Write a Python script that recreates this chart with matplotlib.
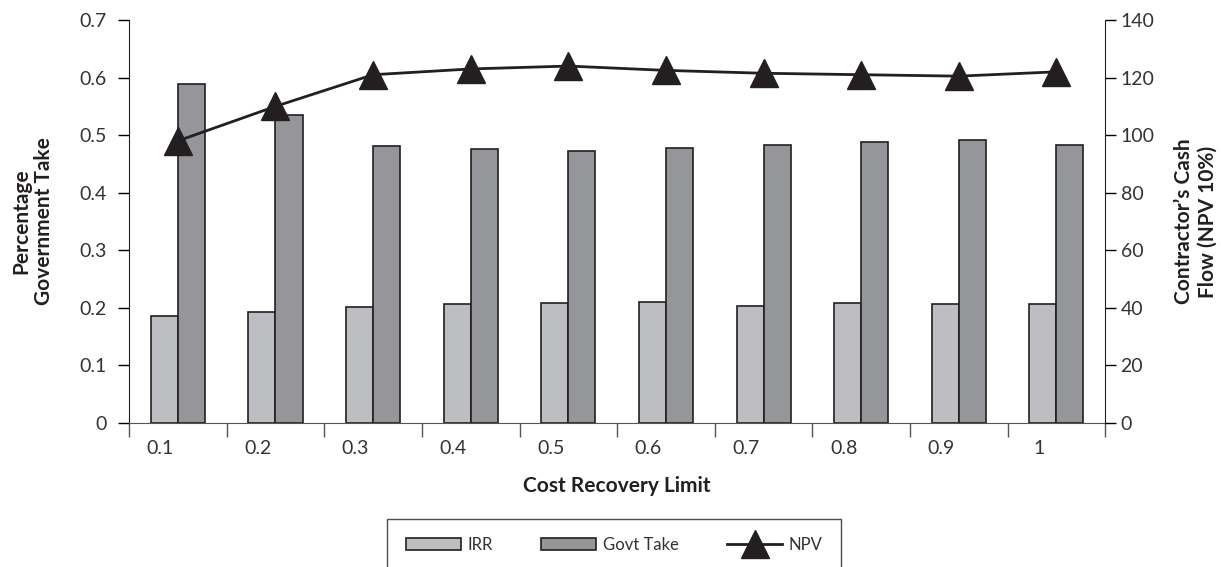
import numpy as np
import matplotlib
matplotlib.use("Agg")
import matplotlib.pyplot as plt

plt.rcParams['font.family'] = ['Lato', 'DejaVu Sans']

limits = ['0.1', '0.2', '0.3', '0.4', '0.5', '0.6', '0.7', '0.8', '0.9', '1']
irr = [0.185, 0.192, 0.202, 0.206, 0.209, 0.210, 0.204, 0.209, 0.207, 0.207]
govt_take = [0.588, 0.535, 0.482, 0.476, 0.473, 0.477, 0.483, 0.488, 0.492, 0.483]
npv = [98, 110, 121, 123, 124, 122.5, 121.5, 121, 120.5, 122]

edge = '#231f20'
fig = plt.figure(figsize=(12.21, 5.67), dpi=100)
ax = fig.add_axes([0.1057, 0.254, 0.7995, 0.7107])
x = np.arange(len(limits))
w = 0.277
ax.bar(x - w/2, irr, w, color='#bdbec2', edgecolor=edge, linewidth=1.2, label='IRR', zorder=2)
ax.bar(x + w/2, govt_take, w, color='#95969a', edgecolor=edge, linewidth=1.2, label='Govt Take', zorder=2)
ax.set_xlim(-0.5, len(limits) - 0.5)
ax.set_ylim(0, 0.7)
ax.set_yticks(np.arange(0, 0.71, 0.1))
ax.set_yticklabels(['0', '0.1', '0.2', '0.3', '0.4', '0.5', '0.6', '0.7'])

# tick marks on the category borders, labels a bit left of centre
ax.set_xticks(np.arange(-0.5, len(limits), 1))
ax.set_xticklabels([])
ax.set_xticks(x - 0.18, minor=True)
ax.set_xticklabels(limits, minor=True)
ax.tick_params(axis='x', which='major', direction='out', length=10, width=1, color='#555555')
ax.tick_params(axis='x', which='minor', length=0, pad=12, labelsize=14, labelcolor='#333333')
ax.tick_params(axis='y', direction='out', length=8, width=1, labelsize=14, labelcolor='#333333', pad=8)
for s in ['top', 'right']:
    ax.spines[s].set_visible(False)
ax.spines['left'].set_color(edge)
ax.spines['bottom'].set_color('#555555')

ax2 = ax.twinx()
ax2.plot(x, npv, color=edge, linewidth=2, marker='^', markersize=20, label='NPV', zorder=3)
ax2.set_ylim(0, 140)
ax2.set_yticks(np.arange(0, 141, 20))
ax2.tick_params(axis='y', direction='out', length=8, width=1, labelsize=14, labelcolor='#333333', pad=3)
for s in ['top', 'left', 'bottom']:
    ax2.spines[s].set_visible(False)
ax2.spines['right'].set_color(edge)

ax.set_xlabel('Cost Recovery Limit', fontsize=15, fontweight='bold', color=edge, labelpad=14)
ax.set_ylabel('Percentage\nGovernment Take', fontsize=15, fontweight='bold', color=edge, labelpad=18)
ax2.set_ylabel('Contractor\u2019s Cash\nFlow (NPV 10%)', fontsize=15, fontweight='bold', color=edge, labelpad=14)

h1, l1 = ax.get_legend_handles_labels()
h2, l2 = ax2.get_legend_handles_labels()
leg = fig.legend(h1 + h2, l1 + l2, loc='upper center', bbox_to_anchor=(0.503, 0.085), ncol=3,
                 fancybox=False, frameon=True, edgecolor=edge, fontsize=12, columnspacing=2.9,
                 handlelength=3.3, handletextpad=0.4, borderpad=1.1, borderaxespad=0,
                 markerscale=1.0)
leg.get_frame().set_linewidth(1)
for t in leg.get_texts():
    t.set_color('#333333')

fig.savefig('out.png', dpi=100)
